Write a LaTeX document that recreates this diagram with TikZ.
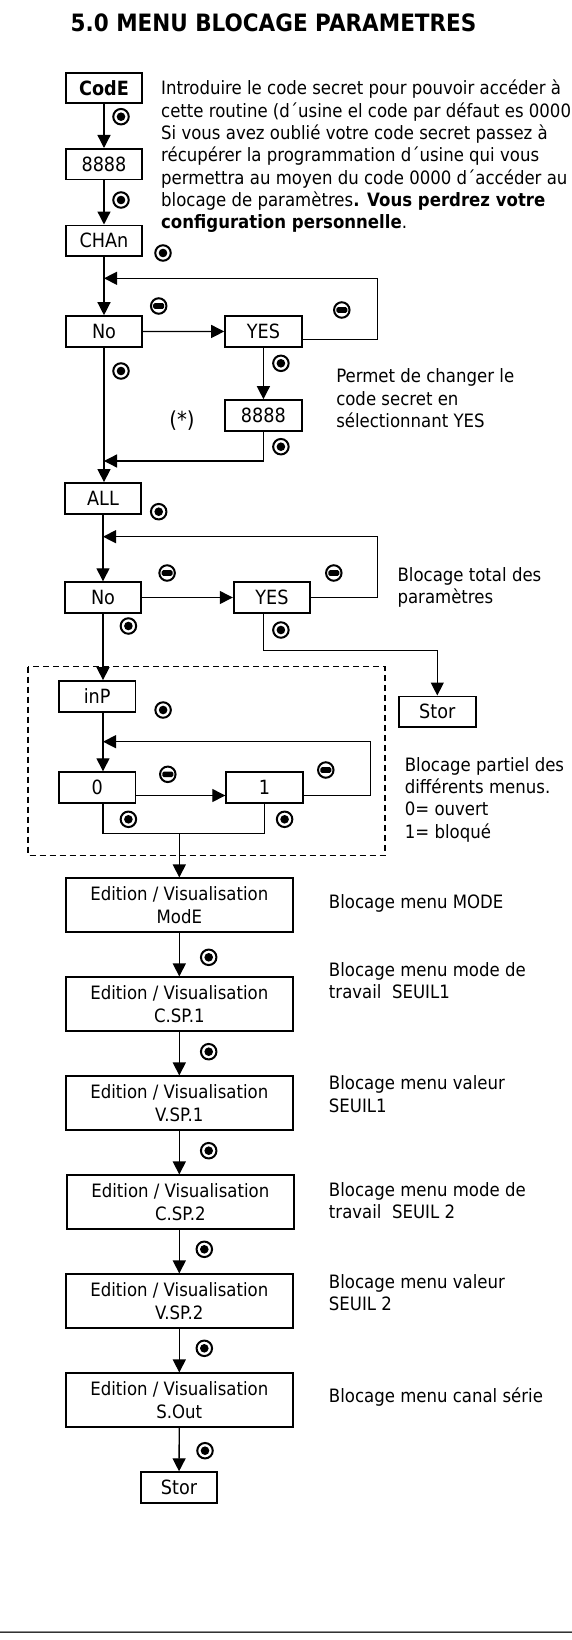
\documentclass[tikz,border=0pt]{standalone}
\usepackage{fontspec}
\setmainfont{DejaVu Sans}[FakeStretch=0.9]
\usepackage{tikz}
\usetikzlibrary{arrows.meta}
\newcommand{\txtfont}{\fontsize{18.4}{22.3}\selectfont}
\newcommand{\dispfont}{\fontsize{19.6}{22}\selectfont}
\newcommand{\headfont}{\fontsize{23.9}{28}\selectfont\bfseries}
\tikzset{
  every picture/.style = {
    line width = 1.3pt,
    >={Triangle[width=13pt,length=13pt]},
    x = 1pt, y = -1pt
  }
  ,
  display/.style = {
    rectangle,
    draw,
    line width = 1.8pt,
    font = \dispfont,
    inner sep = 0pt,
    minimum width = 76.6pt,
    minimum height = 30.6pt
  }
  , % boites Edition / Visualisation
  display-wide/.style = {
    display,
    font = \txtfont,
    align = center,
    minimum width = 227.3pt,
    minimum height = 53.3pt
  }
  , % textes a droite (base = derniere ligne)
  label-note/.style = {
    font = \txtfont,
    align = left,
    anchor = base west,
    inner sep = 0pt
  }
  ,
  key-enter/.style = {
    circle,
    draw,
    line width = 2pt,
    inner sep = 0pt,
    minimum size = 15.5pt,
    path picture = {\fill (path picture bounding box.center) circle (4.3pt);}
  }
  ,
  key-minus/.style = {
    key-enter,
    path picture = {\fill[rounded corners=1.5pt] ([shift={(-5.5pt,-2.8pt)}]path picture bounding box.center) rectangle ++(11pt,5.6pt);}
  }
}

\begin{document}
\begin{tikzpicture}
\useasboundingbox (0,0) rectangle (572,1640);
\node[anchor=base west, inner sep=0pt, font=\headfont] at (70,31.7) (title) {5.0 MENU BLOCAGE PARAMETRES};

% code secret
\node[display, font=\dispfont\bfseries] at (104,88) (code) {CodE};
\node[display] at (104,164.2) (pwd) {8888};
\node[display] at (104,240.7) (chan) {CHAn};
\draw[->] (code) -- (pwd);
\draw[->] (pwd) -- (chan);
\node[key-enter] at (121,116.7) (k1) {};
\node[key-enter] at (121,200) (k2) {};
\node[key-enter] at (163,253) (k3) {};
\node[label-note] at (160.5,228.6) (note1) {Introduire le code secret pour pouvoir accéder à\\
cette routine (d´usine el code par défaut es 0000)\\
Si vous avez oublié votre code secret passez à\\
récupérer la programmation d´usine qui vous\\
permettra au moyen du code 0000 d´accéder au\\
blocage de paramètres\textbf{. Vous perdrez votre}\\
\textbf{configuration personnelle}.};

% changement du code
\node[display] at (104,331.4) (chno) {No};
\node[display] at (263.4,331.5) (chyes) {YES};
\node[display] at (263.4,415.4) (newpwd) {8888};
\node[font=\fontsize{22}{24}\selectfont, inner sep=0pt] at (182,421) (star) {(*)};
\coordinate (r1) at (377.6,278.3);
\coordinate (j1) at (104,461);
\draw[->] (chan) -- (chno);
\draw[->] (chno) -- (chyes);
\draw[->] ([yshift=-8pt]chyes.east) -| (r1) -- (r1 -| chan.south);
\draw[->] (chyes) -- (newpwd);
\draw[->] (newpwd.south) |- (j1);
\node[key-minus] at (158.7,306) (m1) {};
\node[key-minus] at (341.8,310) (m2) {};
\node[key-enter] at (121,371) (k4) {};
\node[key-enter] at (280.9,363.3) (k5) {};
\node[key-enter] at (280.9,446.7) (k6) {};
\node[label-note] at (335.6,427.3) (note2) {Permet de changer le\\
code secret en\\
sélectionnant YES};

% blocage total
\node[display] at (103,498.3) (all) {ALL};
\node[display] at (103,597.5) (allno) {No};
\node[display] at (272,597.5) (allyes) {YES};
\node[display] at (437.3,711.7) (stor1) {Stor};
\coordinate (r2) at (377.6,536.7);
\coordinate (j2) at (437.3,650.7);
\draw[->] (chno.south) -- (chno.south |- all.north);
\draw[->] (all) -- (allno);
\draw[->] (allno) -- (allyes);
\draw[->] (allyes.east) -| (r2) -- (r2 -| all.south);
\draw[->] (allyes.south -| newpwd.south) |- (j2) -- (stor1.north);
\node[key-enter] at (158.7,511.7) (k7) {};
\node[key-minus] at (167.1,573) (m3) {};
\node[key-minus] at (333.8,573) (m4) {};
\node[key-enter] at (128.4,626) (k8) {};
\node[key-enter] at (280.9,630) (k9) {};
\node[label-note] at (396.9,603.5) (note3) {Blocage total des\\
paramètres};

% blocage partiel
\draw[dashed, dash pattern=on 6pt off 4pt] (28.1,666.7) rectangle (384.9,855.3);
\node[display] at (97.2,696.3) (inp) {inP};
\node[display] at (97.2,787.5) (zero) {0};
\node[display] at (264.5,787.5) (one) {1};
\coordinate (r3) at (370.3,741.7);
\coordinate (j3) at (179.3,833.3);
\draw[->] (allno.south) -- (allno.south |- inp.north);
\draw[->] (inp.south -| allno.south) -- (allno.south |- zero.north);
\draw[->] ([yshift=-8pt]zero.east) -- ([yshift=-8pt]one.west);
\draw[->] ([yshift=-8pt]one.east) -| (r3) -- (r3 -| allno.south);
\draw (zero.south -| allno.south) |- (one.south |- j3) -- (one.south);
\node[key-enter] at (163.1,710) (k10) {};
\node[key-minus] at (167.8,774.3) (m5) {};
\node[key-minus] at (325.8,770) (m6) {};
\node[key-enter] at (128.4,819.3) (k11) {};
\node[key-enter] at (284.6,819.3) (k12) {};
\node[label-note] at (404.2,838.2) (note4) {Blocage partiel des\\
différents menus.\\
0= ouvert\\
1= bloqué};

% menus
\node[display-wide] at (179.3,905) (ed1) {Edition / Visualisation\\ModE};
\node[display-wide] at (179.3,1004) (ed2) {Edition / Visualisation\\C.SP.1};
\node[display-wide] at (179.3,1103) (ed3) {Edition / Visualisation\\V.SP.1};
\node[display-wide] at (180.3,1202) (ed4) {Edition / Visualisation\\C.SP.2};
\node[display-wide] at (179.3,1301) (ed5) {Edition / Visualisation\\V.SP.2};
\node[display-wide] at (179.3,1400) (ed6) {Edition / Visualisation\\S.Out};
\node[display] at (179,1487.5) (stor2) {Stor};
\draw[->] (j3) -- (ed1);
\draw[->] (ed1) -- (ed2);
\draw[->] (ed2) -- (ed3);
\draw[->] (ed3) -- (ed4.north -| ed3.south);
\draw[->] (ed4.south -| ed3.south) -- (ed5);
\draw[->] (ed5) -- (ed6);
\draw[->] (ed6) -- (stor2);
\node[key-enter] at (208.7,957.3) (k13) {};
\node[key-enter] at (208.7,1051.7) (k14) {};
\node[key-enter] at (208.7,1150.7) (k15) {};
\node[key-enter] at (204.3,1249.3) (k16) {};
\node[key-enter] at (204.3,1348.3) (k17) {};
\node[key-enter] at (205,1450.7) (k18) {};
\node[label-note] at (328.3,908) (note5) {Blocage menu MODE};
\node[label-note] at (328.3,998.8) (note6) {Blocage menu mode de\\
travail~ SEUIL1};
\node[label-note] at (328.3,1112.1) (note7) {Blocage menu valeur\\
SEUIL1};
\node[label-note] at (328.3,1218.8) (note8) {Blocage menu mode de\\
travail~ SEUIL 2};
\node[label-note] at (328.3,1310.3) (note9) {Blocage menu valeur\\
SEUIL 2};
\node[label-note] at (328.3,1402.5) (note10) {Blocage menu canal série};

% filet bas de page
\draw[line width=2.6pt, black!80] (0,1631.8) -- (572,1631.8);
\draw[line width=0.7pt, black!45] (0,1631.8) -- (572,1631.8);
\end{tikzpicture}
\end{document}
